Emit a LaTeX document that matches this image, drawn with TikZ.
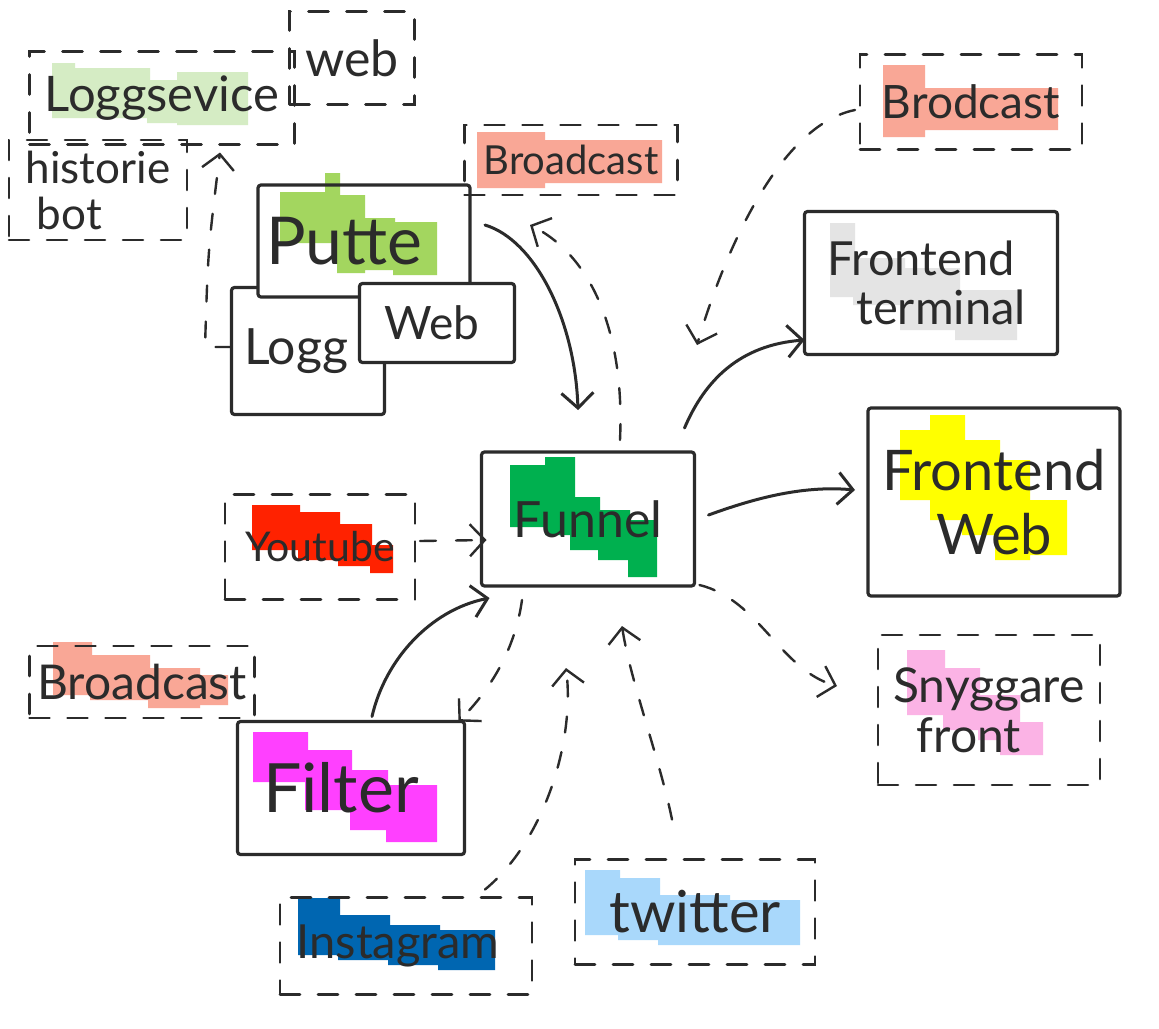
\documentclass[tikz,border=0pt]{standalone}
\usepackage{fontspec}
\setmainfont{Lato}
\usetikzlibrary{arrows.meta}
\definecolor{ink}{HTML}{2B2B2B}
\definecolor{lgreen}{HTML}{D5ECC4}
\definecolor{pgreen}{HTML}{A3D65F}
\definecolor{salmon}{HTML}{F9A796}
\definecolor{lgray}{HTML}{E4E4E4}
\definecolor{fgreen}{HTML}{00B04F}
\definecolor{ytred}{HTML}{FF2200}
\definecolor{hyellow}{HTML}{FFFF00}
\definecolor{hpink}{HTML}{FBB3E5}
\definecolor{hmag}{HTML}{FF40FF}
\definecolor{dblue}{HTML}{0066B1}
\definecolor{lblue}{HTML}{A9D8FB}
\begin{document}
\begin{tikzpicture}[x=1pt,y=-1pt,
  box/.style={draw=ink, line width=3.2pt, rounded corners=3pt, inner sep=0pt, outer sep=0pt, text=ink, align=center},
  dbox/.style={draw=ink, line width=2.6pt, dash pattern=on 20pt off 18pt, line cap=round, inner sep=0pt, outer sep=0pt, text=ink, align=center},
  conn/.style={draw=ink, line width=3pt, line cap=round, -{Straight Barb[length=15pt,width=32pt]}},
  dconn/.style={conn, line width=2.4pt, dash pattern=on 16pt off 20pt},
  sz/.style 2 args={minimum width=#1, minimum height=#2},
  fs/.style={font=\fontsize{#1}{#1}\selectfont}
]
\useasboundingbox (0,0) rectangle (1159,1028);
\fill[white] (0,0) rectangle (1159,1028);

% highlights
\fill[lgreen] (52,63) rectangle (75,118) (72,68) rectangle (150,118) (147,80) rectangle (180,123) (177,72) rectangle (248,125);
\fill[salmon] (477,132) rectangle (545,188) (543,140) rectangle (662,183);
\fill[salmon] (883,65) rectangle (925,137) (923,88) rectangle (1058,130);
\fill[lgray] (830,223) rectangle (855,297) (853,258) rectangle (905,305) (900,268) rectangle (960,330) (955,290) rectangle (1017,340);
\fill[fgreen] (510,465) rectangle (548,527) (545,457) rectangle (575,535) (570,497) rectangle (600,550) (598,510) rectangle (630,560) (628,520) rectangle (657,577);
\fill[ytred] (252,505) rectangle (300,550) (298,512) rectangle (340,560) (338,524) rectangle (372,566) (370,545) rectangle (393,573);
\fill[hyellow] (900,430) rectangle (935,500) (930,415) rectangle (965,520) (962,440) rectangle (1000,535) (995,460) rectangle (1030,560) (1025,500) rectangle (1067,555);
\fill[hpink] (907,650) rectangle (945,715) (943,668) rectangle (980,730) (978,695) rectangle (1020,740) (1000,722) rectangle (1043,755);
\fill[salmon] (53,642) rectangle (92,695) (90,655) rectangle (150,700) (148,668) rectangle (200,708) (198,675) rectangle (228,705);
\fill[hmag] (253,732) rectangle (308,782) (305,750) rectangle (352,810) (350,770) rectangle (388,830) (386,785) rectangle (437,842);
\fill[dblue] (298,898) rectangle (340,955) (338,915) rectangle (390,960) (388,925) rectangle (440,965) (438,930) rectangle (495,970);
\fill[lblue] (585,870) rectangle (620,935) (618,878) rectangle (660,940) (658,895) rectangle (730,945) (728,900) rectangle (800,945);

% nodes
\node[dbox, sz={125pt}{93pt}, fs=50pt] (web) at (352,58) {web};
\node[dbox, sz={265pt}{93pt}, fs=49pt] (logsvc) at (162,98) {Loggsevice};
\node[dbox, sz={178pt}{100pt}, fs=44pt, align=left] (hist) at (98,190) {historie\\[2pt]\ bot};
\node[box, sz={153pt}{127pt}, fs=50pt] (logg) at (308,351) {\hspace*{-24pt}Logg};
\fill[white] (258,185) rectangle (470,297);
\fill[pgreen] (280,192) rectangle (337,243) (325,173) rectangle (340,195) (337,195) rectangle (365,273) (363,218) rectangle (395,270) (393,222) rectangle (437,275);
\node[box, sz={212pt}{112pt}, fs=66pt] (putte) at (364,241) {\hspace*{-40pt}Putte};
\node[box, fill=white, sz={155pt}{79pt}, fs=46pt] (webb) at (437,323) {\hspace*{-10pt}Web};
\node[dbox, sz={213pt}{70pt}, fs=40pt] (bcmid) at (571,160) {Broadcast};
\node[dbox, sz={222pt}{95pt}, fs=46pt] (bcright) at (971,102) {Brodcast};
\node[box, sz={253pt}{143pt}, fs=47pt] (fterm) at (931,283) {Frontend\hspace*{20pt}\\[2pt]\hspace*{20pt}terminal};
\node[box, sz={213pt}{134pt}, fs=50pt] (funnel) at (588,519) {Funnel};
\node[dbox, sz={190pt}{105pt}, fs=41pt] (yt) at (320,547) {Youtube};
\node[box, sz={252pt}{188pt}, fs=56pt] (fweb) at (994,502) {Frontend\\[8pt]Web};
\node[dbox, sz={222pt}{150pt}, fs=48pt] (snyg) at (989,710) {Snyggare\\[2pt]\hspace*{-40pt}front};
\node[dbox, sz={225pt}{72pt}, fs=48pt] (bcleft) at (142,682) {Broadcast};
\node[box, sz={227pt}{133pt}, fs=68pt] (filter) at (351,788) {\hspace*{-20pt}Filter};
\node[dbox, sz={252pt}{97pt}, fs=47pt] (insta) at (406,946) {\hspace*{-16pt}Instagram};
\node[dbox, sz={240pt}{105pt}, fs=58pt] (twit) at (695,912) {twitter};
\coordinate (bcend) at (697,345);

% connectors
\draw[conn] ([shift={(15,-16)}]putte.east) .. controls (535,240) and (575,320) .. ([shift={(-10,-42)}]funnel.north);
\draw[dconn] ([shift={(32,-12)}]funnel.north) .. controls (625,330) and (590,255) .. ([shift={(-41,30)}]bcmid.south);
\draw[conn] ([shift={(-10,-24)}]funnel.north east) .. controls (705,380) and (740,345) .. ([shift={(0,57)}]fterm.west);
\draw[dconn] ([shift={(-5,8)}]bcright.west) .. controls (780,125) and (725,250) .. (bcend);
\draw[conn] ([shift={(14,-4)}]funnel.east) .. controls (750,500) and (800,485) .. ([shift={(-13,-12)}]fweb.west);
\draw[dconn] ([shift={(5,-6)}]yt.east) -- ([shift={(5,21)}]funnel.west);
\draw[conn] ([shift={(21,-5)}]filter.north) .. controls (385,660) and (430,610) .. ([shift={(8,12)}]funnel.south west);
\draw[dconn] ([shift={(-66,14)}]funnel.south) .. controls (515,650) and (490,690) .. ([shift={(-6,0)}]filter.north east);
\draw[dconn] ([shift={(79,-8)}]insta.north) .. controls (545,840) and (575,740) .. ([shift={(-22,82)}]funnel.south);
\draw[dconn] ([shift={(-23,-40)}]twit.north) .. controls (660,760) and (630,680) .. ([shift={(34,40)}]funnel.south);
\draw[dconn] ([shift={(5,-1)}]funnel.south east) .. controls (760,600) and (780,670) .. ([shift={(-41,-24)}]snyg.west);
\draw[dconn] ([shift={(0,-4)}]logg.west) -- (205,347) .. controls (208,250) .. ([shift={(58,8)}]logsvc.south);
\end{tikzpicture}
\end{document}
